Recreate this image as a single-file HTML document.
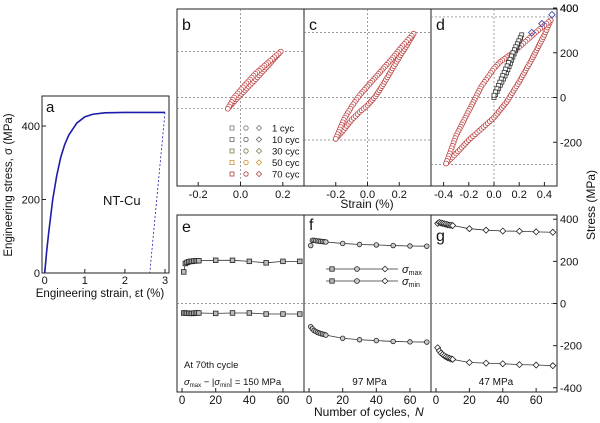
<!DOCTYPE html>
<html><head><meta charset="utf-8"><style>
html,body{margin:0;padding:0;background:#fff}
svg{display:block;font-family:"Liberation Sans",Arial,sans-serif}
</style></head><body>
<svg id="fig" width="600" height="423" viewBox="0 0 600 423"></svg>
<script>
// ---------- data ----------
const aStrain=[0,0.05,0.1,0.2,0.3,0.4,0.5,0.6,0.8,1.0,1.2,1.5,2,2.5,3];
const aStress=[0,60,110,200,265,315,350,375,408,425,432,436,437,437,437];
const aUnload=[[3,437],[2.62,0]];
const bUp=[[-0.06,-50],[-0.02,-8],[0.03,40],[0.08,90],[0.13,142],[0.19,205]];
const bDown=[[0.19,205],[0.13,156],[0.07,106],[0.02,55],[-0.03,0],[-0.06,-50]];
const cUp=[[-0.2,-185],[-0.15,-145],[-0.1,-100],[-0.05,-65],[0,-35],[0.05,5],[0.1,60],[0.15,120],[0.2,180],[0.25,235],[0.29,285]];
const cDown=[[0.29,285],[0.22,230],[0.15,170],[0.1,130],[0.05,90],[0,50],[-0.05,10],[-0.1,-40],[-0.15,-100],[-0.2,-185]];
const dUp=[[-0.38,-295],[-0.3,-250],[-0.2,-190],[-0.1,-140],[0,-90],[0.1,-20],[0.2,70],[0.3,170],[0.4,280],[0.45,345]];
const dDown=[[0.45,345],[0.35,300],[0.25,250],[0.15,200],[0.05,160],[0,130],[-0.1,50],[-0.2,-60],[-0.3,-170],[-0.38,-295]];
const dFirst=[[0,0],[0.1,110],[0.22,280],[0.15,200],[0,10]];
const dBlue=[[0.3,290],[0.38,330],[0.46,370]];
const cycles=[1,2,3,4,5,6,7,8,9,10,20,30,40,50,60,70];
const eMax=[150,190,195,198,200,200,202,202,203,203,205,205,200,193,200,200];
const eMin=[-45,-45,-46,-46,-47,-47,-46,-45,-45,-45,-47,-45,-45,-50,-50,-50];
const fMax=[275,300,300,298,297,296,295,294,293,292,285,280,278,275,273,272];
const fMin=[-110,-120,-128,-133,-137,-140,-143,-145,-147,-150,-165,-172,-176,-180,-182,-183];
const gMax=[380,385,382,380,378,376,374,372,371,370,355,348,344,343,340,338];
const gMin=[-210,-225,-235,-242,-248,-253,-257,-260,-263,-265,-280,-283,-286,-290,-292,-295];
const legendCycles=["1 cyc","10 cyc","30 cyc","50 cyc","70 cyc"];
const aXTicks=[0,1,2,3], aYTicks=[0,200,400];
const upYTicks=[-200,0,200,400], loYTicks=[-400,-200,0,200,400];
const bXTicks=[-0.2,0.0,0.2], cXTicks=[-0.2,0.0,0.2], dXTicks=[-0.4,-0.2,0.0,0.2,0.4], nTicks=[0,20,40,60];

// ---------- helpers ----------
const NS="http://www.w3.org/2000/svg", svg=document.getElementById('fig');
function el(t,a,p){const e=document.createElementNS(NS,t);for(const k in a)e.setAttribute(k,a[k]);(p||svg).appendChild(e);return e;}
function txt(s,x,y,o){const e=el('text',Object.assign({x:x,y:y,'font-size':11,fill:'#111'},o||{}));e.textContent=s;return e;}
function lin(d0,d1,r0,r1){return v=>r0+(v-d0)*(r1-r0)/(d1-d0);}
function mark(shape,x,y,stroke,fill,s){
  let m;
  if(shape==='sq') m=el('rect',{x:x-s,y:y-s,width:2*s,height:2*s,fill:fill,stroke:stroke,'stroke-width':0.8});
  else if(shape==='ci') m=el('circle',{cx:x,cy:y,r:s,fill:fill,stroke:stroke,'stroke-width':0.8});
  else m=el('polygon',{points:`${x},${y-s*1.3} ${x+s*1.3},${y} ${x},${y+s*1.3} ${x-s*1.3},${y}`,fill:fill,stroke:stroke,'stroke-width':0.8});
  
  
  return m;
}
function dashH(x1,x2,y){const l=el('line',{x1:x1,x2:x2,y1:y,y2:y,stroke:'#777','stroke-width':0.7,'stroke-dasharray':'2,2'});}
function dashV(x,y1,y2){const l=el('line',{x1:x,x2:x,y1:y1,y2:y2,stroke:'#777','stroke-width':0.7,'stroke-dasharray':'2,2'});}
function frame(x,y,w,h,name){const r=el('rect',{x:x,y:y,width:w,height:h,fill:'none',stroke:'#222','stroke-width':1});}

// ---------- panel a ----------
const ax=lin(0,3,44.7,165), ay=lin(0,400,273,126);
frame(42,96,127,177,'panel-a-frame');
txt('a',46,112,{'font-size':15});
aXTicks.forEach(v=>{el('line',{x1:ax(v),x2:ax(v),y1:273,y2:269,stroke:'#222'});txt(String(v),ax(v),284,{'text-anchor':'middle'});});
aYTicks.forEach(v=>{el('line',{x1:42,x2:46,y1:ay(v),y2:ay(v),stroke:'#222'});txt(String(v),40,ay(v)+4,{'text-anchor':'end'});});
const aLine=el('polyline',{points:aStrain.map((s,i)=>ax(s)+','+ay(aStress[i])).join(' '),fill:'none',stroke:'#1c1ca8','stroke-width':1.6});

const aU=el('polyline',{points:aUnload.map(p=>ax(p[0])+','+ay(p[1])).join(' '),fill:'none',stroke:'#1c1ca8','stroke-width':0.8,'stroke-dasharray':'2,2'});

txt('NT-Cu',103,205,{'font-size':13});
txt('Engineering strain, εt (%)',100,297,{'text-anchor':'middle','font-size':11.5});
txt('Engineering stress, σ (MPa)',0,0,{'text-anchor':'middle','font-size':11.5,transform:'translate(12,185) rotate(-90)'});

// ---------- upper panels ----------
const UT=9,UB=186;
const uy=lin(-400,400,UB+1,8);
const upPanels=[
 {n:'b',x0:177,x1:304,d:[-0.3,0.3],ticks:bXTicks,up:bUp,down:bDown,hl:[205,-50]},
 {n:'c',x0:304,x1:431,d:[-0.4,0.4],ticks:cXTicks,up:cUp,down:cDown,hl:[290,-190]},
 {n:'d',x0:431,x1:557,d:[-0.5,0.5],ticks:dXTicks,up:dUp,down:dDown,hl:[360,-300]}];
function along(pts,sx,sy,step,cb){
  for(let i=0;i<pts.length-1;i++){
    const x1=sx(pts[i][0]),y1=sy(pts[i][1]),x2=sx(pts[i+1][0]),y2=sy(pts[i+1][1]);
    const L=Math.hypot(x2-x1,y2-y1),n=Math.max(1,Math.round(L/step));
    for(let k=0;k<n;k++)cb(x1+(x2-x1)*k/n,y1+(y2-y1)*k/n);
  }
  const l=pts[pts.length-1];cb(sx(l[0]),sy(l[1]));
}
upPanels.forEach(p=>{
  const sx=lin(p.d[0],p.d[1],p.x0,p.x1);
  frame(p.x0,UT,p.x1-p.x0,UB-UT,'panel-'+p.n+'-frame');
  dashV(sx(0),UT,UB);dashH(p.x0,p.x1,uy(0));
  p.hl.forEach(v=>dashH(p.x0,p.x1,uy(v)));
  p.ticks.forEach(v=>{el('line',{x1:sx(v),x2:sx(v),y1:UB,y2:UB-4,stroke:'#222'});txt(v.toFixed(1),sx(v),198,{'text-anchor':'middle'});});
  txt(p.n,p.x0+5,30,{'font-size':16});
  along(p.up,sx,uy,2.6,(x,y)=>mark('ci',x,y,'#b83a3a','#fff',2.4));
  along(p.down,sx,uy,2.6,(x,y)=>mark('ci',x,y,'#c04848','#fff',2.4));
  if(p.n==='d'){
    along(dFirst,sx,uy,3.5,(x,y)=>mark('sq',x,y,'#333','#fff',2.0));
    dBlue.forEach(q=>mark('di',sx(q[0]),uy(q[1]),'#3040b0','none',2.5));
  }
});
upYTicks.concat([400]).forEach(v=>{el('line',{x1:557,x2:553,y1:uy(v),y2:uy(v),stroke:'#222'});txt(String(v),560,uy(v)+4);});
// legend in b
const legCols=['#777','#666','#7a7a50','#d09030','#b04040'];
legendCycles.forEach((s,i)=>{
  const y=128+i*11.5;
  const g=el('g',{});
  mark('sq',232,y,legCols[i],'none',2);mark('ci',246,y,legCols[i],'none',2.2);mark('di',259,y,legCols[i],'none',2);
  txt(s,272,y+3.5,{'font-size':9.5});
});
txt('Strain (%)',367,208,{'text-anchor':'middle','font-size':12});

// ---------- lower panels ----------
const LT=215,LB=392;
const ly=lin(-420,420,LB,LT);
const loPanels=[
 {n:'e',x0:177,x1:304,mx:eMax,mn:eMin,sh:'sq',fill:'#bbb',lab:'',ly:232},
 {n:'f',x0:304,x1:431,mx:fMax,mn:fMin,sh:'ci',fill:'#ccc',lab:'97 MPa',ly:230},
 {n:'g',x0:431,x1:557,mx:gMax,mn:gMin,sh:'di',fill:'#fff',lab:'47 MPa',ly:241}];
loPanels.forEach(p=>{
  const sx=lin(-3,72.5,p.x0,p.x1);
  frame(p.x0,LT,p.x1-p.x0,LB-LT,'panel-'+p.n+'-frame');
  dashH(p.x0,p.x1,ly(0));
  nTicks.forEach(v=>{el('line',{x1:sx(v),x2:sx(v),y1:LB,y2:LB-4,stroke:'#222'});txt(String(v),sx(v),404,{'text-anchor':'middle','font-size':11.5});});
  txt(p.n,p.x0+5,p.ly,{'font-size':16});
  [p.mx,p.mn].forEach((ser,si)=>{
    const pl=el('polyline',{points:cycles.map((c,i)=>sx(c)+','+ly(ser[i])).join(' '),fill:'none',stroke:'#333','stroke-width':0.8});
    
    cycles.forEach((c,i)=>mark(p.sh,sx(c),ly(ser[i]),'#222',p.fill,2.3));
  });
  if(p.lab)txt(p.lab,(p.x0+p.x1)/2+2,385,{'text-anchor':'middle','font-size':10});
});
loYTicks.forEach(v=>{el('line',{x1:557,x2:553,y1:ly(v),y2:ly(v),stroke:'#222'});txt(String(v),560,ly(v)+4);});
txt('At 70th cycle',184,368,{'font-size':9.5});
const eq=txt('',184,385,{'font-size':9.5});
eq.innerHTML='<tspan font-style="italic">σ</tspan><tspan font-size="6" dy="2">max</tspan><tspan dy="-2"> − |</tspan><tspan font-style="italic">σ</tspan><tspan font-size="6" dy="2">min</tspan><tspan dy="-2">| = 150 MPa</tspan>';
// legend in f
[[269,'max'],[281,'min']].forEach((r,ri)=>{
  const y=r[0];
  el('line',{x1:326,x2:398,y1:y,y2:y,stroke:'#333','stroke-width':0.8});
  mark('sq',332,y,'#222','#bbb',2.2);mark('ci',357,y,'#222','#ccc',2.4);mark('di',385,y,'#222','#fff',2.2);
  const t=txt('',402,y+4,{'font-size':11});
  t.innerHTML='<tspan font-style="italic">σ</tspan><tspan font-size="7" dy="2">'+r[1]+'</tspan>';
});
txt('Number of cycles, ',362,416,{'text-anchor':'middle','font-size':12});
txt('N',415,416,{'font-size':12,'font-style':'italic'});
txt('Stress (MPa)',0,0,{'text-anchor':'middle','font-size':12,transform:'translate(595,205) rotate(-90)'});
</script>
</body></html>
